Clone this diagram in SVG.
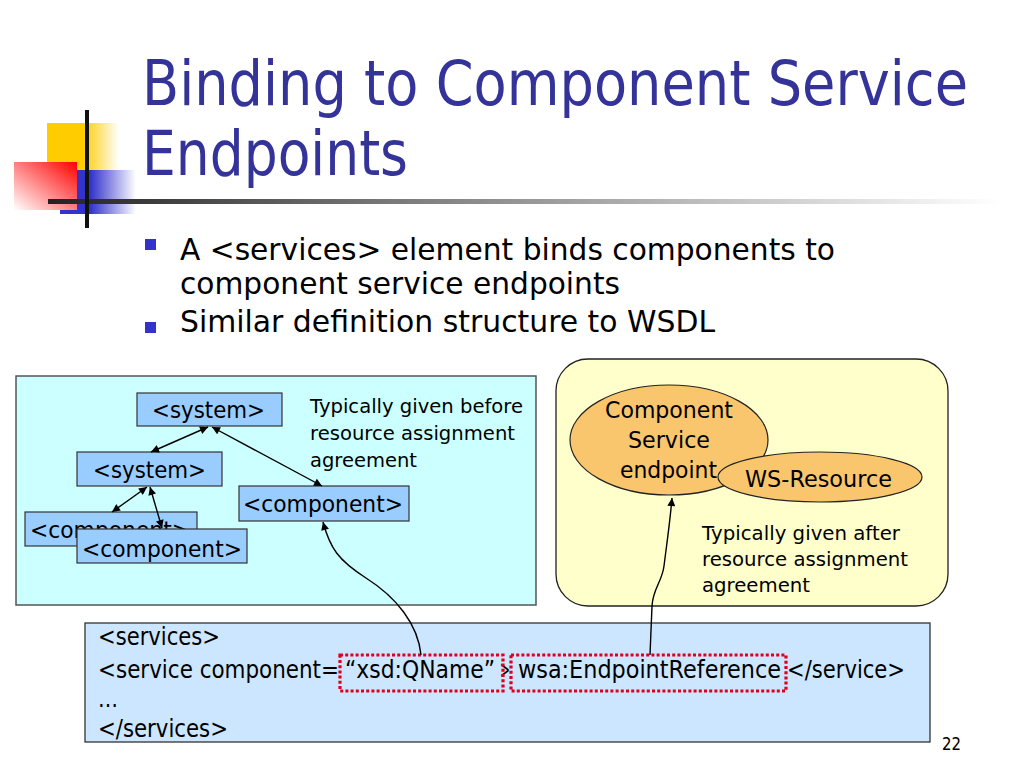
<svg xmlns="http://www.w3.org/2000/svg" width="1024" height="768" viewBox="0 0 1024 768">
<defs>
<style>
text{font-family:"DejaVu Sans","Liberation Sans",sans-serif;fill:#000}
.title{font-size:62px;fill:#333399}
.bul{font-size:31px}
.node{font-size:23px}
.note{font-size:20px}
.code{font-size:24px}
.nbox{fill:#99CCFF;stroke:#333;stroke-width:1.2}
.ell{fill:#F9C66E;stroke:#222;stroke-width:1.2}
.con{fill:none;stroke:#000;stroke-width:1.4}
.red{fill:none;stroke:#E0001A;stroke-width:3.2;stroke-dasharray:3 2.2}
</style>
<marker id="ah" viewBox="0 0 10 10" refX="10" refY="5" markerWidth="9" markerHeight="8" markerUnits="userSpaceOnUse" orient="auto-start-reverse">
<path d="M0,0 L10,5 L0,10 z" fill="#000"/>
</marker>
<linearGradient id="gy" x1="0" y1="0" x2="1" y2="0">
<stop offset="0" stop-color="#FFCC00"/><stop offset="0.5" stop-color="#FFCC00"/><stop offset="1" stop-color="#FFFFFF"/>
</linearGradient>
<linearGradient id="gr" x1="1" y1="0" x2="0" y2="1">
<stop offset="0" stop-color="#FF0000"/><stop offset="1" stop-color="#FFFFFF"/>
</linearGradient>
<linearGradient id="gb" x1="0" y1="0" x2="1" y2="0">
<stop offset="0" stop-color="#3333CC"/><stop offset="0.4" stop-color="#3333CC"/><stop offset="1" stop-color="#FFFFFF"/>
</linearGradient>
<linearGradient id="gl" x1="0" y1="0" x2="1" y2="0">
<stop offset="0" stop-color="#222222"/><stop offset="0.35" stop-color="#777777"/><stop offset="1" stop-color="#FFFFFF"/>
</linearGradient>
</defs>
<rect width="1024" height="768" fill="#FFFFFF"/>

<g id="logo">
<rect x="47" y="123" width="72" height="47" fill="url(#gy)"/>
<rect x="60" y="170" width="76" height="44" fill="url(#gb)"/>
<rect x="14" y="162" width="63" height="48" fill="url(#gr)"/>
<rect x="48" y="199" width="952" height="5" fill="url(#gl)"/>
<rect x="85" y="110" width="4" height="118" fill="#111"/>
</g>

<g id="title">
<text class="title" x="142" y="105" textLength="826" lengthAdjust="spacingAndGlyphs">Binding to Component Service</text>
<text class="title" x="142" y="175" textLength="266" lengthAdjust="spacingAndGlyphs">Endpoints</text>
</g>

<g id="bullets">
<rect x="145" y="239" width="11" height="11" fill="#3333CC"/>
<rect x="145" y="322" width="11" height="11" fill="#3333CC"/>
<text class="bul" x="180" y="260" textLength="655" lengthAdjust="spacingAndGlyphs">A &lt;services&gt; element binds components to</text>
<text class="bul" x="180" y="294" textLength="440" lengthAdjust="spacingAndGlyphs">component service endpoints</text>
<text class="bul" x="180" y="332" textLength="535" lengthAdjust="spacingAndGlyphs">Similar definition structure to WSDL</text>
</g>

<g id="panel-before">
<rect x="16" y="376" width="520" height="229" fill="#CCFFFF" stroke="#555" stroke-width="1.5"/>
<text class="note" x="310" y="413" textLength="213" lengthAdjust="spacingAndGlyphs">Typically given before</text>
<text class="note" x="310" y="440" textLength="205" lengthAdjust="spacingAndGlyphs">resource assignment</text>
<text class="note" x="310" y="467" textLength="107" lengthAdjust="spacingAndGlyphs">agreement</text>
</g>

<g id="system-top">
<rect class="nbox" x="137" y="393" width="145" height="33"/>
<text class="node" x="152" y="418" textLength="113" lengthAdjust="spacingAndGlyphs">&lt;system&gt;</text>
</g>
<g id="system-mid">
<rect class="nbox" x="77" y="452" width="145" height="34"/>
<text class="node" x="93" y="478" textLength="113" lengthAdjust="spacingAndGlyphs">&lt;system&gt;</text>
</g>
<g id="component-right">
<rect class="nbox" x="239" y="486" width="170" height="35"/>
<text class="node" x="243" y="512" textLength="160" lengthAdjust="spacingAndGlyphs">&lt;component&gt;</text>
</g>
<g id="component-back">
<rect class="nbox" x="25" y="512" width="172" height="34"/>
<text class="node" x="30" y="538" textLength="160" lengthAdjust="spacingAndGlyphs">&lt;component&gt;</text>
</g>
<g id="component-front">
<rect class="nbox" x="77" y="529" width="170" height="34"/>
<text class="node" x="82" y="557" textLength="160" lengthAdjust="spacingAndGlyphs">&lt;component&gt;</text>
</g>

<g id="panel-after">
<rect x="556" y="359" width="392" height="247" rx="32" ry="32" fill="#FFFFCC" stroke="#222" stroke-width="1.3"/>
<text class="note" x="702" y="540" textLength="198" lengthAdjust="spacingAndGlyphs">Typically given after</text>
<text class="note" x="702" y="566" textLength="206" lengthAdjust="spacingAndGlyphs">resource assignment</text>
<text class="note" x="702" y="592" textLength="108" lengthAdjust="spacingAndGlyphs">agreement</text>
</g>

<g id="cs-endpoint">
<ellipse class="ell" cx="669" cy="440" rx="99" ry="55"/>
<text class="node" x="605" y="418" textLength="128" lengthAdjust="spacingAndGlyphs">Component</text>
<text class="node" x="628" y="448" textLength="82" lengthAdjust="spacingAndGlyphs">Service</text>
<text class="node" x="620" y="478" textLength="97" lengthAdjust="spacingAndGlyphs">endpoint</text>
</g>
<g id="ws-resource">
<ellipse class="ell" cx="820" cy="477" rx="102" ry="25"/>
<text class="node" x="745" y="487" textLength="147" lengthAdjust="spacingAndGlyphs">WS-Resource</text>
</g>

<g id="services-box">
<rect x="85" y="623" width="845" height="119" fill="#CCE6FF" stroke="#333" stroke-width="1.3"/>
<text class="code" x="98" y="645" textLength="122" lengthAdjust="spacingAndGlyphs">&lt;services&gt;</text>
<text class="code" x="98" y="678" textLength="241" lengthAdjust="spacingAndGlyphs">&lt;service component=</text>
<text class="code" x="345" y="678" textLength="150" lengthAdjust="spacingAndGlyphs">“xsd:QName”</text>
<text class="code" x="500" y="678" textLength="10" lengthAdjust="spacingAndGlyphs">&gt;</text>
<text class="code" x="518" y="678" textLength="263" lengthAdjust="spacingAndGlyphs">wsa:EndpointReference</text>
<text class="code" x="787" y="678" textLength="118" lengthAdjust="spacingAndGlyphs">&lt;/service&gt;</text>
<text class="code" x="98" y="707" textLength="20" lengthAdjust="spacingAndGlyphs">…</text>
<text class="code" x="98" y="737" textLength="130" lengthAdjust="spacingAndGlyphs">&lt;/services&gt;</text>
<rect class="red" x="340" y="655" width="163" height="36"/>
<rect class="red" x="511" y="655" width="275" height="36"/>
</g>

<g id="connectors">
<line class="con" x1="208" y1="427" x2="151" y2="452" marker-start="url(#ah)" marker-end="url(#ah)"/>
<line class="con" x1="212" y1="427" x2="322" y2="486" marker-start="url(#ah)" marker-end="url(#ah)"/>
<line class="con" x1="147" y1="487" x2="112" y2="512" marker-start="url(#ah)" marker-end="url(#ah)"/>
<line class="con" x1="150" y1="487" x2="162" y2="528" marker-start="url(#ah)" marker-end="url(#ah)"/>
<path class="con" d="M421,655 C418,624 396,597 366,578 C338,560 330,548 323,522" marker-end="url(#ah)"/>
<path class="con" d="M650,655 L652,606 C653,588 662,582 664,566 C667,542 670,522 672,498" marker-end="url(#ah)"/>
</g>

<text x="942" y="750" style="font-size:18px" textLength="19" lengthAdjust="spacingAndGlyphs">22</text>
</svg>
